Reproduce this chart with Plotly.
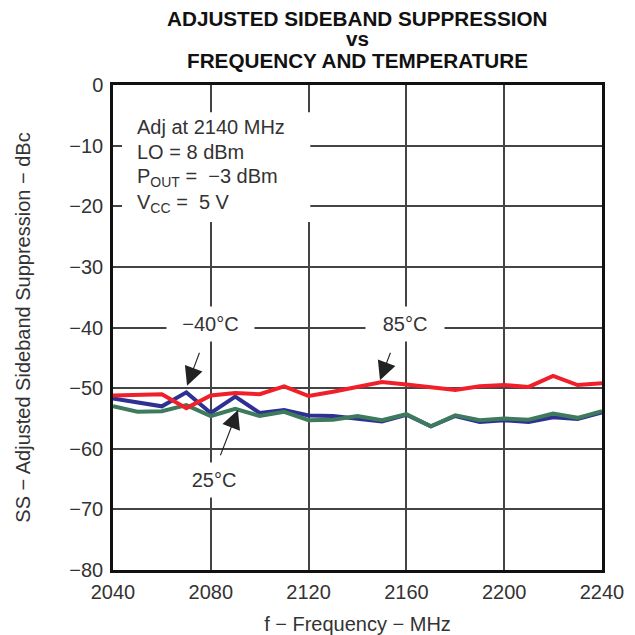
import plotly.graph_objects as go

freq = [2040, 2050, 2060, 2070, 2080, 2090, 2100, 2110, 2120, 2130, 2140,
        2150, 2160, 2170, 2180, 2190, 2200, 2210, 2220, 2230, 2240]
ss_m40 = [-51.7, -52.3, -53.0, -50.7, -54.1, -51.4, -54.1, -53.6, -54.5, -54.6, -55.0,
          -55.5, -54.4, -56.3, -54.6, -55.6, -55.3, -55.6, -54.8, -55.1, -54.0]
ss_25 = [-53.0, -53.9, -53.8, -52.8, -54.6, -53.4, -54.6, -53.9, -55.3, -55.2, -54.6,
         -55.3, -54.3, -56.3, -54.5, -55.3, -55.0, -55.2, -54.2, -54.9, -53.8]
ss_85 = [-51.2, -51.1, -51.0, -53.3, -51.2, -50.8, -51.0, -49.7, -51.3, -50.6, -49.8,
         -49.0, -49.4, -49.8, -50.3, -49.7, -49.5, -49.8, -48.0, -49.5, -49.2]

x_ticks = [2040, 2080, 2120, 2160, 2200, 2240]
y_ticks = [0, -10, -20, -30, -40, -50, -60, -70, -80]
y_tick_text = ["0", "\u221210", "\u221220", "\u221230", "\u221240",
               "\u221250", "\u221260", "\u221270", "\u221280"]

FONT = "Liberation Sans, Arial, sans-serif"
TXT = "#333333"

fig = go.Figure()
fig.add_trace(go.Scatter(x=freq, y=ss_m40, mode="lines", name="-40°C",
                         line=dict(color="#2E3192", width=4)))
fig.add_trace(go.Scatter(x=freq, y=ss_25, mode="lines", name="25°C",
                         line=dict(color="#3E7A5C", width=4)))
fig.add_trace(go.Scatter(x=freq, y=ss_85, mode="lines", name="85°C",
                         line=dict(color="#F0202A", width=4)))

# white box behind the conditions text
fig.add_shape(type="rect", xref="x", yref="y", x0=2043.7, x1=2120.7, y0=-22.6, y1=-4.5,
              fillcolor="white", line=dict(width=0), layer="above")

cond = [("Adj at 2140 MHz", -7.0), ("LO = 8 dBm", -11.1),
        ("P<sub>OUT</sub> =  \u22123 dBm", -15.3), ("V<sub>CC</sub> =  5 V", -19.5)]
for txt, yy in cond:
    fig.add_annotation(x=2049, y=yy, xref="x", yref="y", text=txt, showarrow=False,
                       xanchor="left", yanchor="middle",
                       font=dict(family=FONT, size=20, color=TXT))

# temperature labels
labels = [("\u221240\u00b0C", 2080, -39.5, 85), ("85\u00b0C", 2159.4, -39.5, 76),
          ("25\u00b0C", 2081.3, -65.2, 70)]
for txt, xx, yy, w in labels:
    fig.add_annotation(x=xx, y=yy, xref="x", yref="y", text=txt, showarrow=False,
                       bgcolor="white", width=w, height=32,
                       font=dict(family=FONT, size=20, color=TXT))

arrows = [(2077.2, -42.2, 2070.3, -49.6), (2155.3, -42.2, 2149.2, -48.7),
          (2082.1, -63.0, 2091.1, -53.6)]
for ax_, ay_, hx, hy in arrows:
    fig.add_annotation(x=hx, y=hy, ax=ax_, ay=ay_, xref="x", yref="y",
                       axref="x", ayref="y", text=" ", showarrow=True,
                       arrowhead=2, arrowsize=3.4, arrowwidth=1.1, arrowcolor="#222222")

# title lines
for txt, py in [("ADJUSTED SIDEBAND SUPPRESSION", 1.1381), ("vs", 1.0969),
                ("FREQUENCY AND TEMPERATURE", 1.0515)]:
    fig.add_annotation(x=0.5, y=py, xref="paper", yref="paper", text="<b>%s</b>" % txt,
                       showarrow=False, xanchor="center", yanchor="middle",
                       font=dict(family=FONT, size=20.7, color="#111111"))

fig.update_layout(
    width=627, height=627,
    margin=dict(l=105, r=33, t=77, b=65, autoexpand=False),
    paper_bgcolor="white", plot_bgcolor="white",
    showlegend=False,
    font=dict(family=FONT, size=20, color=TXT),
)
fig.update_xaxes(range=[2040, 2240], tickvals=x_ticks, ticktext=[str(v) for v in x_ticks],
                 showgrid=True, gridcolor="#444444", gridwidth=1.5,
                 showline=True, linecolor="#111111", linewidth=2.5, mirror=True,
                 ticks="", zeroline=False, ticklabelstandoff=2, automargin=False,
                 title=dict(text="f \u2212 Frequency \u2212 MHz", standoff=23,
                            font=dict(family=FONT, size=20, color=TXT)),
                 tickfont=dict(family=FONT, size=20, color=TXT))
fig.update_yaxes(range=[-80, 0], tickvals=y_ticks, ticktext=y_tick_text,
                 showgrid=True, gridcolor="#444444", gridwidth=1.5,
                 showline=True, linecolor="#111111", linewidth=2.5, mirror=True,
                 ticks="", zeroline=False, ticklabelstandoff=3, automargin=False,
                 title=dict(text="SS \u2212 Adjusted Sideband Suppression \u2212 dBc", standoff=34,
                            font=dict(family=FONT, size=20, color=TXT)),
                 tickfont=dict(family=FONT, size=20, color=TXT))

fig.write_html("out.html")
